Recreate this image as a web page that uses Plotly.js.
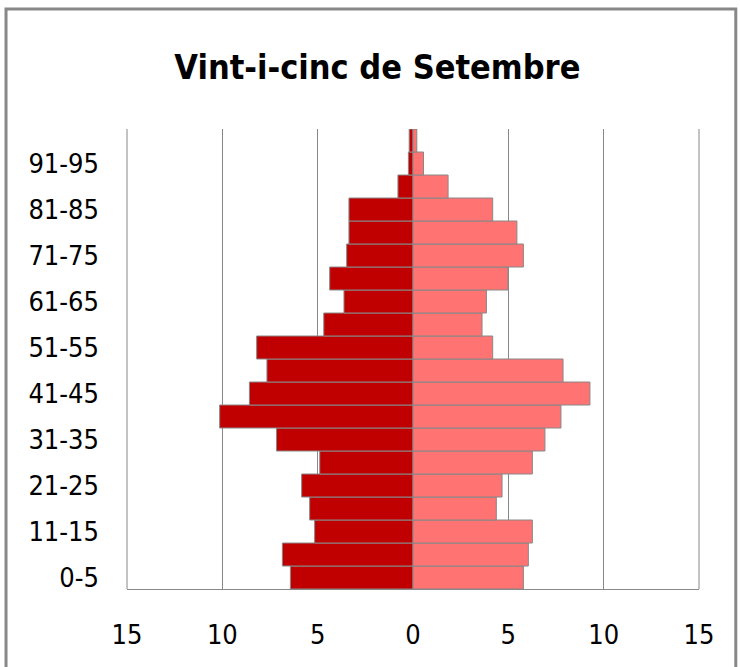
<!DOCTYPE html>
<html>
<head>
<meta charset="utf-8">
<script src="https://cdn.plot.ly/plotly-3.0.1.min.js"></script>
<style>
html,body{margin:0;padding:0;background:#fff;}
#chart{width:740px;height:667px;}
</style>
</head>
<body>
<div id="chart"></div>
<script>
const ageGroups = ["0-5","6-10","11-15","16-20","21-25","26-30","31-35","36-40","41-45","46-50",
                   "51-55","56-60","61-65","66-70","71-75","76-80","81-85","86-90","91-95","96-100"];
const men   = [-6.43,-6.85,-5.16,-5.42,-5.84,-4.89,-7.16,-10.14,-8.58,-7.66,
               -8.2,-4.68,-3.62,-4.37,-3.48,-3.36,-3.36,-0.79,-0.24,-0.2];
const women = [5.79,6.05,6.26,4.37,4.67,6.26,6.92,7.76,9.28,7.87,
               4.18,3.62,3.85,4.98,5.79,5.45,4.18,1.84,0.55,0.2];
const shownAgeLabels = ["0-5","11-15","21-25","31-35","41-45","51-55","61-65","71-75","81-85","91-95"];
const xTickVals = [-15,-10,-5,0,5,10,15];
const xTickText = ["15","10","5","0","5","10","15"];

const fontFam = "'DejaVu Sans Condensed','Liberation Sans Narrow','Liberation Sans',sans-serif";

const traces = [
  {type:'bar', orientation:'h', y:ageGroups, x:men, name:'Homes',
   marker:{color:'#C00000', line:{color:'#888888', width:1}}},
  {type:'bar', orientation:'h', y:ageGroups, x:women, name:'Dones',
   marker:{color:'#FF7373', line:{color:'#888888', width:1}}}
];

const layout = {
  width:740, height:667,
  margin:{l:127, r:41, t:129, b:78},
  paper_bgcolor:'#ffffff', plot_bgcolor:'#ffffff',
  showlegend:false,
  barmode:'relative', bargap:0,
  title:{text:'<b>Vint-i-cinc de Setembre</b>', x:0.51, xanchor:'center', y:0.9, yanchor:'middle',
         font:{family:fontFam, size:34, color:'#000000'}},
  xaxis:{range:[-15,15], tickvals:xTickVals, ticktext:xTickText,
         showgrid:true, gridcolor:'#888888', gridwidth:1, zeroline:false,
         showline:true, linecolor:'#888888', linewidth:1, mirror:false,
         ticks:'', ticklabelstandoff:22,
         tickfont:{family:fontFam, size:27, color:'#000000'}},
  yaxis:{type:'category', categoryorder:'array', categoryarray:ageGroups,
         tickvals:shownAgeLabels, ticktext:shownAgeLabels,
         showgrid:false, zeroline:false, showline:false, ticks:'', ticklabelstandoff:27,
         tickfont:{family:fontFam, size:27, color:'#000000'}},
  shapes:[
    {type:'rect', xref:'paper', yref:'paper', x0:-0.2115, x1:1.0643, y0:-0.2, y1:1.2609,
     line:{color:'#888888', width:3}, fillcolor:'rgba(0,0,0,0)', layer:'below'},
    {type:'line', xref:'paper', yref:'paper', x0:0, x1:0, y0:0, y1:1, line:{color:'#888888', width:1}},
    {type:'line', xref:'paper', yref:'paper', x0:1, x1:1, y0:0, y1:1, line:{color:'#888888', width:1}}
  ]
};

Plotly.newPlot('chart', traces, layout, {displayModeBar:false, staticPlot:true});
</script>
</body>
</html>
